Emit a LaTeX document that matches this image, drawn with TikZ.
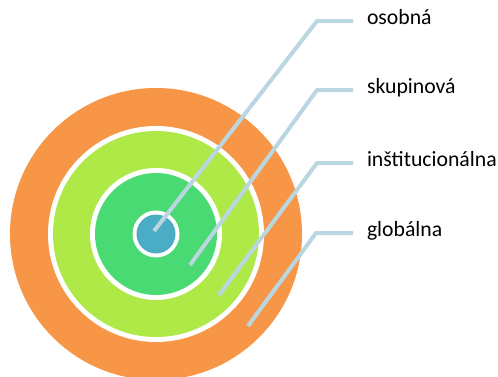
\documentclass[tikz,border=0pt]{standalone}
\usepackage{fontspec}
\setmainfont{Carlito}
\usepackage{xcolor}
\definecolor{ringorange}{HTML}{F79646}
\definecolor{ringlime}{HTML}{AEE948}
\definecolor{ringgreen}{HTML}{4ADA74}
\definecolor{ringblue}{HTML}{4BACC6}
\definecolor{leaderblue}{HTML}{BAD6E0}

\begin{document}
\begin{tikzpicture}[x=0.75pt,y=0.75pt,line cap=butt,
  leader/.style={draw=leaderblue,line width=3pt,line join=miter},
  lbl/.style={anchor=west,inner sep=0pt,outer xsep=10.5pt,text height=1.5ex,text depth=.25ex,font=\fontsize{16.3}{19}\selectfont}]
\useasboundingbox (0,0) rectangle (498,376);
\clip (0,0) rectangle (498,376);
% rings
\fill[ringorange] (156,142) circle (146);
\fill[white] (156,142) circle (108);
\fill[ringlime] (156,142) circle (103);
\fill[white] (156,142) circle (66);
\fill[ringgreen] (156,142) circle (61);
\fill[white] (156,142) circle (23.5);
\fill[ringblue] (156,142) circle (19.5);
% labels
\node[lbl] (osobna) at (353,355) {osobná};
\node[lbl] (skupinova) at (353,286) {skupinová};
\node[lbl] (institucionalna) at (353,213) {inštitucionálna};
\node[lbl] (globalna) at (353,143) {globálna};
% leaders
\coordinate (s1) at (154,145);
\coordinate (k1) at (317,355);
\coordinate (s2) at (190,111);
\coordinate (k2) at (317,286);
\coordinate (s3) at (219,81);
\coordinate (k3) at (317,213);
\coordinate (s4) at (248,50);
\coordinate (k4) at (316,143);
\draw[leader] (s1) -- (k1) -- (osobna.west);
\draw[leader] (s2) -- (k2) -- (skupinova.west);
\draw[leader] (s3) -- (k3) -- (institucionalna.west);
\draw[leader] (s4) -- (k4) -- (globalna.west);
\end{tikzpicture}
\end{document}
